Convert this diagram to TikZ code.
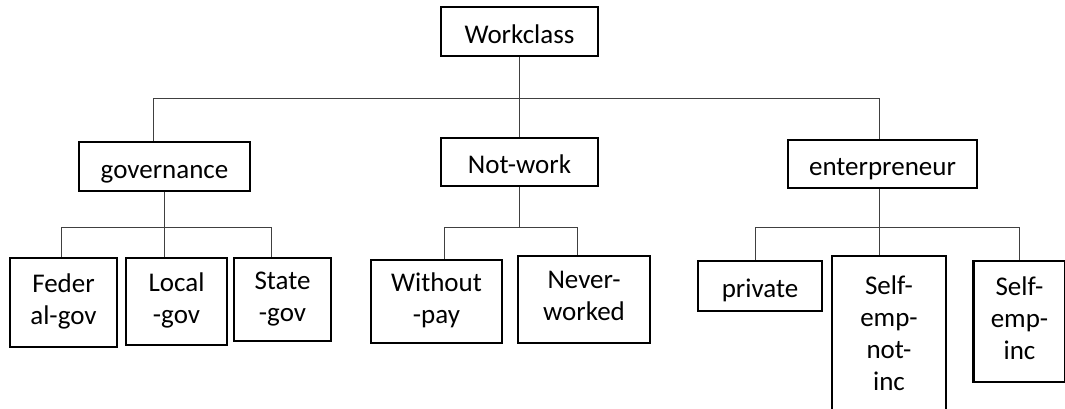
\documentclass[tikz,border=0pt]{standalone}
\usepackage{fontspec}
\setmainfont{Carlito}

\tikzset{
  box/.style={draw, line width=2.2pt, align=center, inner sep=0pt,
    font=\fontsize{27}{32}\selectfont,
    execute at begin node=\rule{0pt}{29.5pt},
    execute at end node=\rule[-6.5pt]{0pt}{6.5pt}},
  link/.style={line width=1pt, draw=black!75}
}

\begin{document}
\begin{tikzpicture}[x=1pt,y=-1pt]

\useasboundingbox (0,0) rectangle (1065,408);
\clip (0,0) rectangle (1065,408);

\node[box,minimum width=157,minimum height=49] (workclass) at (519.5,31.5) {Workclass};

\node[box,minimum width=171,minimum height=49] (gov) at (164.5,166.5) {governance};
\node[box,minimum width=157,minimum height=48] (notwork) at (519.5,162) {Not-work};
\node[box,minimum width=189,minimum height=48] (entre) at (882.5,164) {enterpreneur};

\node[box,minimum width=107,minimum height=89] (federal) at (63.5,302.5) {Feder\\al-gov};
\node[box,minimum width=101,minimum height=87] (local) at (176.5,301.5) {Local\\-gov};
\node[box,minimum width=97,minimum height=83] (state) at (282.5,299.5) {State\\-gov};

\node[box,minimum width=131,minimum height=83] (withoutpay) at (436.5,301.5) {Without\\-pay};
\node[box,minimum width=132,minimum height=87] (neverworked) at (584,299.5) {Never-\\worked};

\node[box,minimum width=124,minimum height=50] (private) at (760,286) {private};
\node[box,minimum width=114,minimum height=161] (selfnotinc) at (889,336.5) {Self-\\emp-\\not-\\inc};
\node[box,minimum width=92,minimum height=121] (selfinc) at (1019.5,321.5) {Self-\\emp-\\inc};

\coordinate (t1) at (153,98);
\coordinate (t2) at (879,98);
\coordinate (g1) at (61,227);
\coordinate (g2) at (271,227);
\coordinate (n1) at (444,227);
\coordinate (n2) at (577,227);
\coordinate (e1) at (755,227);
\coordinate (e2) at (1019,227);

\draw[link] (workclass.south) -- (notwork.north);
\draw[link] (t1) -- (t2);
\draw[link] (t1) -- (t1 |- gov.north);
\draw[link] (t2) -- (t2 |- entre.north);

\draw[link] (g1) -- (g2);
\draw[link] (gov.south) -- (gov.south |- local.north);
\draw[link] (n1) -- (n2);
\draw[link] (notwork.south) -- (notwork.south |- n1);
\draw[link] (e1) -- (e2);
\draw[link] (t2 |- entre.south) -- (t2 |- selfnotinc.north);

\foreach \c/\n in {g1/federal, g2/state, n1/withoutpay, n2/neverworked, e1/private, e2/selfinc}
    \draw[link] (\c) -- (\c |- \n.north);

\end{tikzpicture}
\end{document}
